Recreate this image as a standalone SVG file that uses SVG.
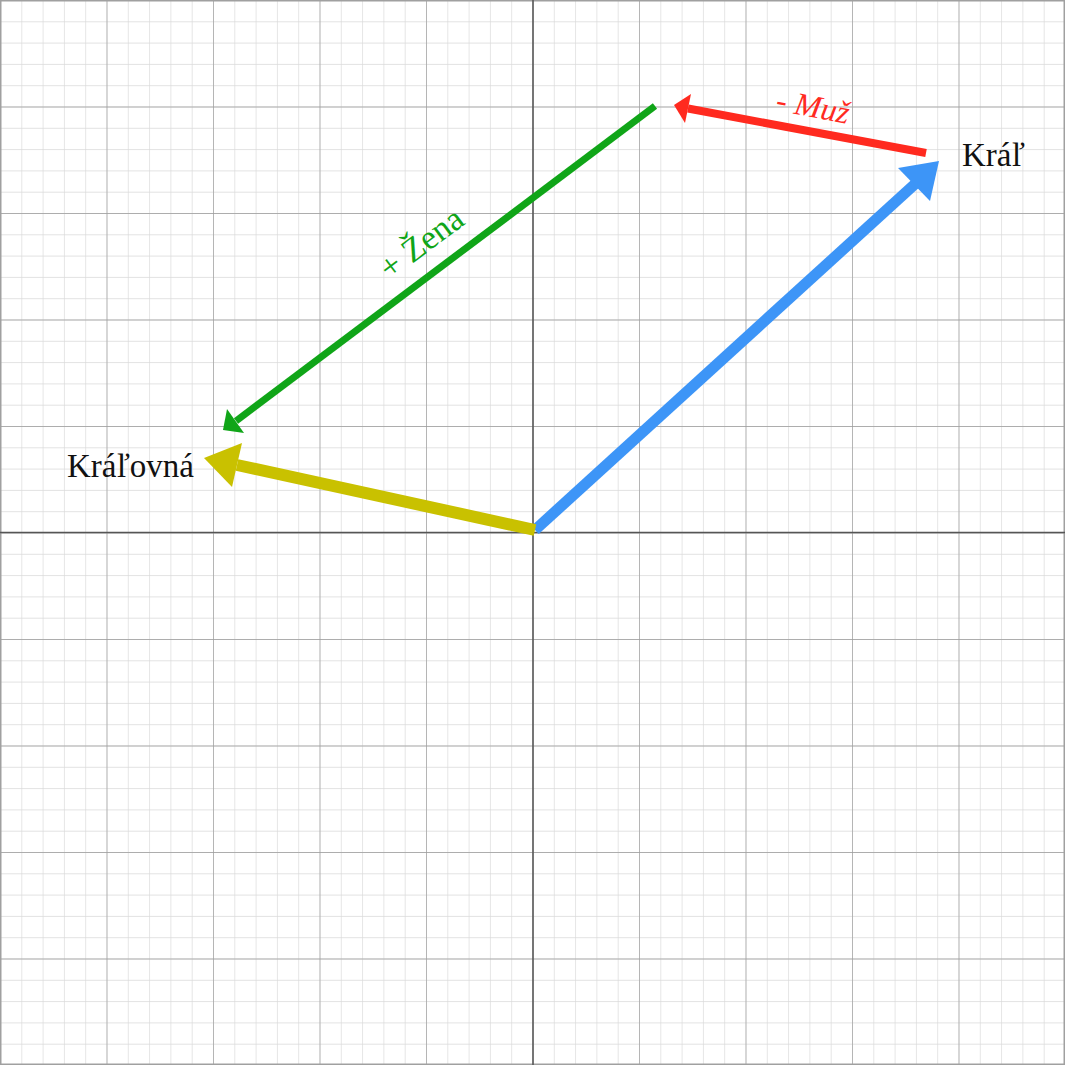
<svg xmlns="http://www.w3.org/2000/svg" width="1065" height="1065" viewBox="0 0 1065 1065">
<defs>
<style>
.axis{stroke:#555;stroke-width:1.5}
.lbl{font-family:"Liberation Serif","DejaVu Serif",serif;font-size:33px;fill:#111}
</style>
<pattern id="minorP" width="21.3" height="21.3" patternUnits="userSpaceOnUse">
<path d="M0 0H21.3M0 0V21.3" fill="none" stroke="#d9d9d9" stroke-width="1.3"/>
</pattern>
<pattern id="majorP" width="106.5" height="106.5" patternUnits="userSpaceOnUse">
<path d="M0 0H106.5M0 0V106.5" fill="none" stroke="#9c9c9c" stroke-width="1.3"/>
</pattern>
</defs>
<rect width="1065" height="1065" fill="#fff"/>
<g id="grid">
<rect width="1065" height="1065" fill="url(#minorP)"/>
<rect width="1065" height="1065" fill="url(#majorP)"/>
<rect x="0.75" y="0.75" width="1063.5" height="1063.5" fill="none" stroke="#a0a0a0" stroke-width="1.5"/>
<line class="axis" x1="533" y1="0" x2="533" y2="1065"/>
<line class="axis" x1="0" y1="532.5" x2="1065" y2="532.5"/>
</g>
<g id="connectors">
<g id="vec-kral">
<line x1="535" y1="530" x2="915" y2="184" stroke="#3d95f7" stroke-width="11"/>
<polygon points="939,161 898,168 930,201" fill="#3d95f7"/>
</g>
<g id="vec-muz">
<line x1="926" y1="153" x2="688" y2="108.5" stroke="#ff2a1f" stroke-width="8"/>
<polygon points="674,105 691,94 685,123" fill="#ff2a1f"/>
</g>
<g id="vec-zena">
<line x1="655" y1="106" x2="236" y2="421" stroke="#10a518" stroke-width="7"/>
<polygon points="223,430 227,409 244,433" fill="#10a518"/>
</g>
<g id="vec-kralovna">
<line x1="535" y1="530" x2="237" y2="465" stroke="#c9c100" stroke-width="12"/>
<polygon points="204,458 242,443 232,487" fill="#c9c100"/>
</g>
</g>
<g id="label-kral"><text class="lbl" x="962" y="166">Kráľ</text></g>
<g id="label-kralovna"><text class="lbl" x="67" y="477">Kráľovná</text></g>
<g id="label-muz"><text transform="translate(811,117) rotate(10.8)" text-anchor="middle" font-family="Liberation Serif, DejaVu Serif, serif" font-style="italic" font-size="32" fill="#ff2a1f">- Muž</text></g>
<g id="label-zena"><text transform="translate(428,252) rotate(-36.8)" text-anchor="middle" font-family="Liberation Serif, DejaVu Serif, serif" font-size="34" fill="#10a518">+ Žena</text></g>
</svg>
